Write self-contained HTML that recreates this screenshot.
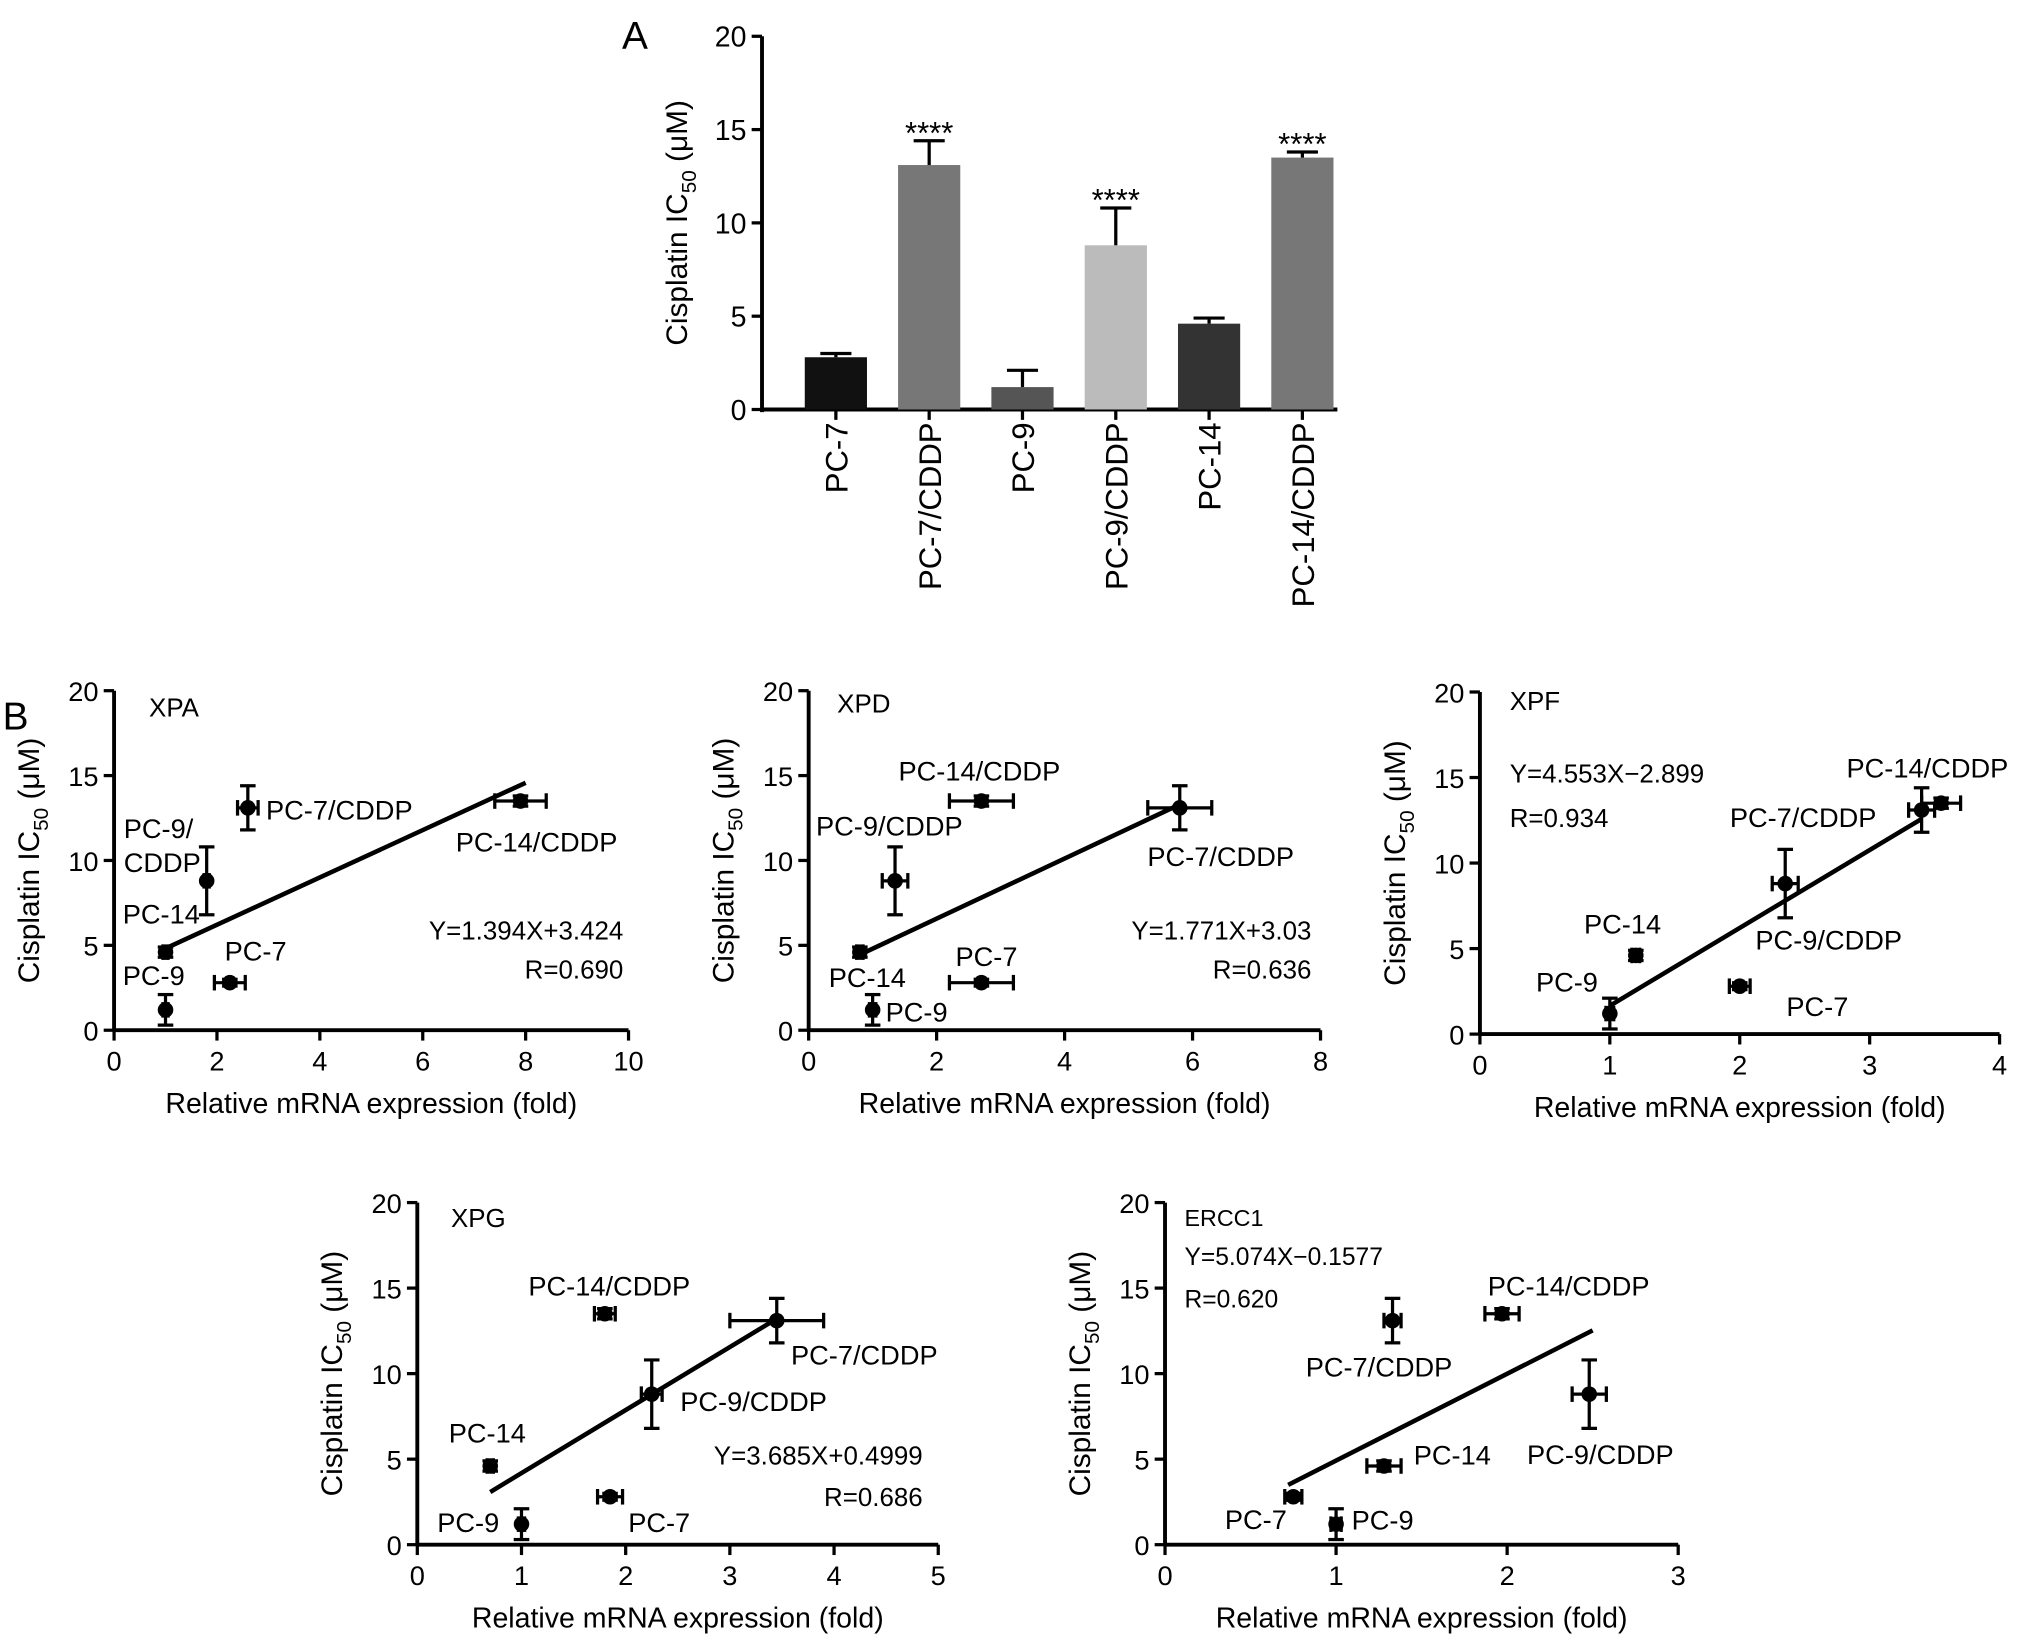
<!DOCTYPE html>
<html><head><meta charset="utf-8"><style>
html,body{margin:0;padding:0;background:#fff;}
svg{display:block;font-family:"Liberation Sans",Arial,sans-serif;}
</style></head><body>
<svg id="fig" width="2032" height="1649" viewBox="0 0 1568 1272.5" xmlns="http://www.w3.org/2000/svg">
<text x="480" y="38" font-size="30">A</text>
<text x="2" y="563" font-size="30">B</text>
<g id="barA"></g>
<g id="plots"></g>
</svg>
<script>
const NS="http://www.w3.org/2000/svg";
const barCategories=["PC-7","PC-7/CDDP","PC-9","PC-9/CDDP","PC-14","PC-14/CDDP"];
const barValues=[2.8,13.1,1.2,8.8,4.6,13.5];
const barErrors=[0.2,1.3,0.9,2.0,0.3,0.3];
const barStars=["","****","","****","","****"];
const barColors=["#111","#777","#555","#bbb","#333","#777"];
const yTicks=[0,5,10,15,20];

const cellLines=["PC-7","PC-7/CDDP","PC-9","PC-9/CDDP","PC-14","PC-14/CDDP"];
const ic50=[2.8,13.1,1.2,8.8,4.6,13.5];
const ic50Err=[0.2,1.3,0.9,2.0,0.3,0.3];
const xpaX=[2.25,2.6,1,1.8,1,7.9];
const xpaXErr=[0.3,0.2,0.05,0.05,0.05,0.5];
const xpdX=[2.7,5.8,1,1.35,0.8,2.7];
const xpdXErr=[0.5,0.5,0.05,0.2,0.05,0.5];
const xpfX=[2,3.4,1,2.35,1.2,3.55];
const xpfXErr=[0.08,0.1,0.03,0.1,0.03,0.15];
const xpgX=[1.85,3.45,1,2.25,0.7,1.8];
const xpgXErr=[0.12,0.45,0.03,0.1,0.03,0.1];
const erccX=[0.75,1.33,1,2.48,1.28,1.97];
const erccXErr=[0.05,0.05,0.03,0.1,0.1,0.1];
const xpaTicks=[0,2,4,6,8,10];
const xpdTicks=[0,2,4,6,8];
const xpfTicks=[0,1,2,3,4];
const xpgTicks=[0,1,2,3,4,5];
const erccTicks=[0,1,2,3];

function el(tag,attrs,parent,text){const e=document.createElementNS(NS,tag);for(const k in attrs)e.setAttribute(k,attrs[k]);if(text!==undefined)e.textContent=text;parent.appendChild(e);return e;}

(function(){
 const g=document.getElementById('barA');
 const x0=588,y0=316,yTop=28,xEnd=1032;
 const ys=v=>y0-(v/20)*(y0-yTop);
 const xs=i=>645+i*72;
 let a=el('line',{x1:x0,y1:yTop,x2:x0,y2:y0+2,stroke:'#000','stroke-width':3},g);
 
 a=el('line',{x1:x0-1,y1:y0,x2:xEnd,y2:y0,stroke:'#000','stroke-width':3},g);
 
 yTicks.forEach(t=>{el('line',{x1:x0-8,x2:x0,y1:ys(t),y2:ys(t),stroke:'#000','stroke-width':2.5},g);
  const tx=el('text',{x:x0-12,y:ys(t)+8,'font-size':22,'text-anchor':'end'},g,String(t));
  });
 const yt=el('text',{transform:`translate(530,172) rotate(-90)`,'font-size':23,'text-anchor':'middle'},g);
 
 yt.innerHTML='Cisplatin IC<tspan font-size="16" dy="7">50</tspan><tspan dy="-7"> (μM)</tspan>';
 barCategories.forEach((c,i)=>{
  const cx=xs(i),w=48;
  const r=el('rect',{x:cx-w/2,y:ys(barValues[i]),width:w,height:y0-ys(barValues[i]),fill:barColors[i]},g);
  
  const ye=ys(barValues[i]+barErrors[i]);
  el('line',{x1:cx,x2:cx,y1:ys(barValues[i]),y2:ye,stroke:'#000','stroke-width':2.5},g);
  el('line',{x1:cx-12,x2:cx+12,y1:ye,y2:ye,stroke:'#000','stroke-width':2.5},g);
  el('line',{x1:cx,x2:cx,y1:y0,y2:y0+8,stroke:'#000','stroke-width':2.5},g);
  const lb=el('text',{transform:`translate(${cx+9},326) rotate(-90)`,'font-size':24,'text-anchor':'end'},g,c);
  
  if(barStars[i]){const s=el('text',{x:cx,y:ye+2,'font-size':24,'text-anchor':'middle'},g,barStars[i]);
   }
 });
})();

function scatter(cfg){
 const g=el('g',{},document.getElementById('plots'));
 
 const {x0,x1,y0,y1,xmax}=cfg;
 const xs=v=>x0+v/xmax*(x1-x0), ys=v=>y0-v/20*(y0-y1);
 let a=el('line',{x1:x0,y1:y1,x2:x0,y2:y0+1,stroke:'#000','stroke-width':3},g);
 
 a=el('line',{x1:x0-1,y1:y0,x2:x1,y2:y0,stroke:'#000','stroke-width':3},g);
 
 yTicks.forEach(t=>{el('line',{x1:x0-8,x2:x0,y1:ys(t),y2:ys(t),stroke:'#000','stroke-width':2.5},g);
  const tx=el('text',{x:x0-12,y:ys(t)+8,'font-size':21,'text-anchor':'end'},g,String(t));
  });
 cfg.ticks.forEach(t=>{el('line',{x1:xs(t),x2:xs(t),y1:y0,y2:y0+8,stroke:'#000','stroke-width':2.5},g);
  const tx=el('text',{x:xs(t),y:y0+31,'font-size':21,'text-anchor':'middle'},g,String(t));
  });
 const xt=el('text',{x:(x0+x1)/2,y:y0+64,'font-size':22,'text-anchor':'middle'},g,'Relative mRNA expression (fold)');
 
 const yt=el('text',{transform:`translate(${x0-58},${(y0+y1)/2}) rotate(-90)`,'font-size':23,'text-anchor':'middle'},g);
 
 yt.innerHTML='Cisplatin IC<tspan font-size="16" dy="7">50</tspan><tspan dy="-7"> (μM)</tspan>';
 const ln=el('line',{x1:xs(cfg.lx[0]),y1:ys(cfg.slope*cfg.lx[0]+cfg.icpt),x2:xs(cfg.lx[1]),y2:ys(cfg.slope*cfg.lx[1]+cfg.icpt),stroke:'#000','stroke-width':3.5},g);
 
 cellLines.forEach((c,i)=>{
  const px=xs(cfg.x[i]),py=ys(ic50[i]);
  const ya=ys(ic50[i]+ic50Err[i]),yb=ys(ic50[i]-ic50Err[i]);
  const xa=xs(cfg.x[i]-cfg.xe[i]),xb=xs(cfg.x[i]+cfg.xe[i]);
  el('line',{x1:px,x2:px,y1:ya,y2:yb,stroke:'#000','stroke-width':2.5},g);
  el('line',{x1:px-6,x2:px+6,y1:ya,y2:ya,stroke:'#000','stroke-width':2.5},g);
  el('line',{x1:px-6,x2:px+6,y1:yb,y2:yb,stroke:'#000','stroke-width':2.5},g);
  el('line',{x1:xa,x2:xb,y1:py,y2:py,stroke:'#000','stroke-width':2.5},g);
  el('line',{x1:xa,x2:xa,y1:py-6,y2:py+6,stroke:'#000','stroke-width':2.5},g);
  el('line',{x1:xb,x2:xb,y1:py-6,y2:py+6,stroke:'#000','stroke-width':2.5},g);
  const d=el('circle',{cx:px,cy:py,r:6,fill:'#000'},g);
  
  const o=cfg.lab[i];
  const t=el('text',{x:px+o[0],y:py+o[1],'font-size':21,'text-anchor':o[2]||'start'},g);
  
  const parts=(o[3]||c).split('|');
  parts.forEach((p,k)=>el('tspan',{x:px+o[0],dy:k?26:0},t,p));
 });
 cfg.texts.forEach(tx=>{const t=el('text',{x:tx[0],y:tx[1],'font-size':tx[3]||20,'text-anchor':tx[4]||'start'},g,tx[2]);
  });
}

scatter({name:'xpa',x0:88,x1:485,y0:795,y1:533,xmax:10,ticks:xpaTicks,x:xpaX,xe:xpaXErr,slope:1.394,icpt:3.424,lx:[1,8],
 lab:[[-4,-17],[14,9],[-33,-19],[-64,-33,'start','PC-9/|CDDP'],[-33,-22],[-50,39]],
 texts:[[115,553,'XPA'],[481,725,'Y=1.394X+3.424',20,'end'],[481,755,'R=0.690',20,'end']]});
scatter({name:'xpd',x0:624,x1:1019,y0:795,y1:533,xmax:8,ticks:xpdTicks,x:xpdX,xe:xpdXErr,slope:1.771,icpt:3.03,lx:[0.8,5.8],
 lab:[[-20,-13],[-25,45],[10,9],[-61,-35],[-24,27],[-64,-16]],
 texts:[[646,550,'XPD'],[1012,725,'Y=1.771X+3.03',20,'end'],[1012,755,'R=0.636',20,'end']]});
scatter({name:'xpf',x0:1142,x1:1543,y0:798,y1:534,xmax:4,ticks:xpfTicks,x:xpfX,xe:xpfXErr,slope:4.553,icpt:-2.899,lx:[1,3.4],
 lab:[[36,23],[-148,13],[-57,-17],[-23,51],[-40,-17],[-73,-20]],
 texts:[[1165,548,'XPF'],[1165,604,'Y=4.553X−2.899'],[1165,638,'R=0.934']]});
scatter({name:'xpg',x0:322,x1:724,y0:1192,y1:928,xmax:5,ticks:xpgTicks,x:xpgX,xe:xpgXErr,slope:3.685,icpt:0.4999,lx:[0.7,3.45],
 lab:[[14,27],[11,34],[-65,6],[22,13],[-32,-18],[-59,-14]],
 texts:[[348,947,'XPG'],[712,1130,'Y=3.685X+0.4999',20,'end'],[712,1162,'R=0.686',20,'end']]});
scatter({name:'ercc1',x0:899,x1:1295,y0:1192,y1:928,xmax:3,ticks:erccTicks,x:erccX,xe:erccXErr,slope:5.074,icpt:-0.1577,lx:[0.72,2.5],
 lab:[[-5,25,'end'],[-67,43],[12,4],[-48,54],[23,-1],[-11,-14]],
 texts:[[914,946,'ERCC1',18],[914,976,'Y=5.074X−0.1577',19],[914,1009,'R=0.620',19]]});
</script>
</body></html>
